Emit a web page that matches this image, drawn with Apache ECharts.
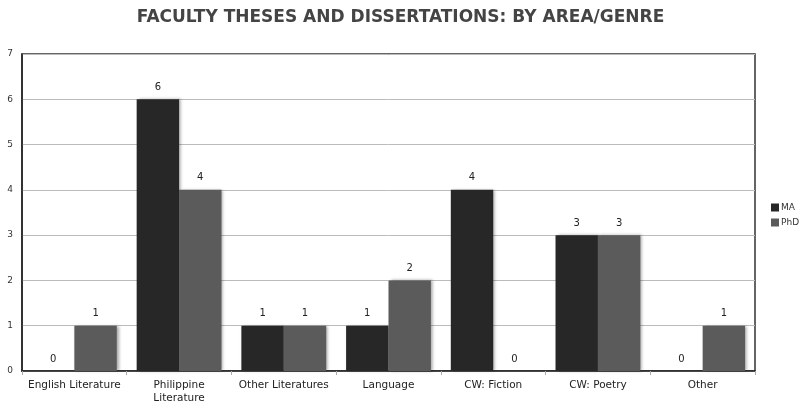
<!DOCTYPE html>
<html><head><meta charset="utf-8">
<script src="https://cdn.jsdelivr.net/npm/echarts@6/dist/echarts.min.js"></script>
<style>html,body{margin:0;padding:0;background:#fff}#c{width:801px;height:407px}</style>
</head><body><div id="c"></div>
<script>
const categories = ["English Literature","Philippine\nLiterature","Other Literatures","Language","CW: Fiction","CW: Poetry","Other"];
const maValues = [0,6,1,1,4,3,0];
const phdValues = [1,4,1,2,0,3,1];
const yTicks = [0,1,2,3,4,5,6,7];

const chart = echarts.init(document.getElementById('c'));
const font = 'DejaVu Sans, Verdana, sans-serif';
function barSeries(name, data, color){
  return {
    name, type:'bar', data, barGap:'0%', barCategoryGap:'19%',
    itemStyle:{color, shadowColor:'rgba(0,0,0,0.35)', shadowBlur:3, shadowOffsetX:2, shadowOffsetY:0},
    label:{show:true, position:'top', distance:7, fontSize:10, color:'#222', fontFamily:font}
  };
}
chart.setOption({
  animation:false,
  title:{text:'FACULTY THESES AND DISSERTATIONS: BY AREA/GENRE', left:'center', top:4,
    textStyle:{fontSize:17, fontWeight:'bold', color:'#444', fontFamily:font}},
  grid:{left:22, right:46, top:54, bottom:36, show:true, borderColor:'#333', borderWidth:1.5, containLabel:false},
  legend:{orient:'vertical', left:766, top:198, itemWidth:8, itemHeight:8, itemGap:6,
    icon:'rect', textStyle:{fontSize:9, color:'#333', fontFamily:font, padding:[0,0,0,-3]}, data:['MA','PhD']},
  xAxis:{type:'category', data:categories,
    axisLine:{lineStyle:{color:'#222', width:1.5}},
    axisTick:{show:true, length:4, lineStyle:{color:'#aaa'}},
    axisLabel:{fontSize:10.5, color:'#222', fontFamily:font, margin:8, lineHeight:13, interval:0}},
  yAxis:{type:'value', min:0, max:7, interval:1,
    axisLine:{show:true, lineStyle:{color:'#222', width:1.5}},
    axisTick:{show:false},
    splitLine:{lineStyle:{color:'#bbb', width:1}},
    axisLabel:{fontSize:9, color:'#333', fontFamily:font, margin:9,
      formatter:v=> yTicks.includes(v) ? String(v) : ''}},
  series:[barSeries('MA', maValues, '#272727'), barSeries('PhD', phdValues, '#5b5b5b')]
});
</script></body></html>
